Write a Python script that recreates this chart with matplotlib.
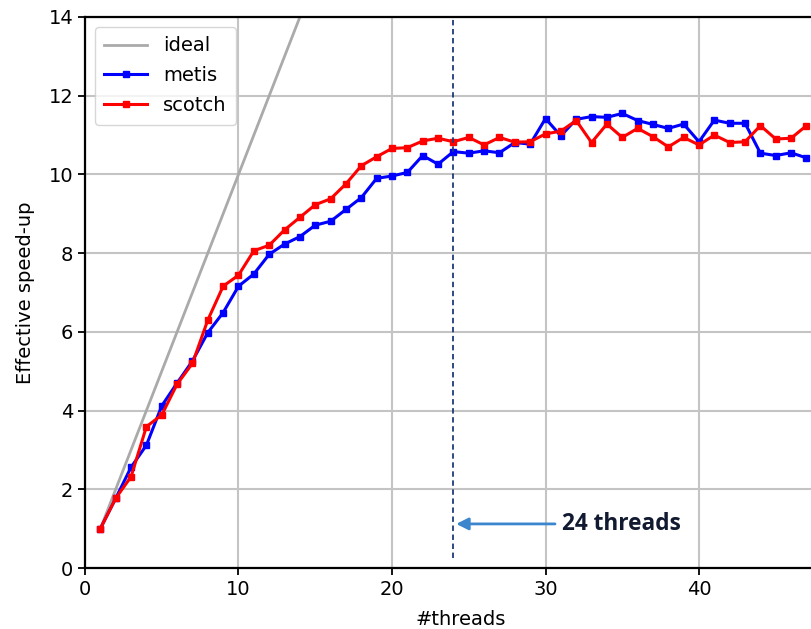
import numpy as np
import matplotlib
matplotlib.use('Agg')
import matplotlib.pyplot as plt

threads = np.arange(1, 48)
metis = [1.0, 1.77, 2.56, 3.12, 4.12, 4.7, 5.26, 5.98, 6.49, 7.16,
         7.47, 7.97, 8.23, 8.42, 8.71, 8.81, 9.11, 9.41, 9.9, 9.96,
         10.05, 10.48, 10.26, 10.58, 10.54, 10.6, 10.55, 10.81, 10.77, 11.42,
         10.98, 11.4, 11.47, 11.45, 11.55, 11.37, 11.27, 11.17, 11.28, 10.83,
         11.38, 11.3, 11.3, 10.54, 10.48, 10.55, 10.42]
scotch = [1.0, 1.77, 2.32, 3.59, 3.89, 4.67, 5.2, 6.3, 7.16, 7.44,
          8.06, 8.2, 8.59, 8.91, 9.23, 9.38, 9.76, 10.22, 10.45, 10.66,
          10.68, 10.85, 10.92, 10.83, 10.94, 10.75, 10.94, 10.82, 10.83, 11.03,
          11.1, 11.37, 10.81, 11.28, 10.94, 11.17, 10.96, 10.7, 10.94, 10.75,
          11.0, 10.81, 10.83, 11.24, 10.9, 10.92, 11.24]
ideal = threads
marker_thread = 24

fig = plt.figure(figsize=(8.11, 6.29), dpi=100)
# axes runs past the right edge, the reference is cropped there
ax = fig.add_axes([85/811, 61/629, 49*15.35/811, 551/629])

ax.plot(threads, ideal, color='#aaaaaa', lw=2, label='ideal')
ax.plot(threads, metis, color='blue', lw=2.2, marker='s', ms=5, label='metis')
ax.plot(threads, scotch, color='red', lw=2.2, marker='s', ms=5, label='scotch')

ax.axvline(marker_thread, ymin=0.018, ymax=1, color='#1f3a7a', lw=1.3, ls=(0, (3, 2)))
ax.annotate('', xy=(marker_thread, 1.12), xytext=(30.8, 1.12),
            arrowprops=dict(arrowstyle='-|>', color='#3b86cc', lw=2, mutation_scale=18))
ax.text(31.1, 1.12, '24 threads', fontsize=16.3, fontweight='bold', color='#111a30',
        va='center', ha='left', family=['Open Sans', 'DejaVu Sans'])

ax.set_xlim(0, 49)
ax.set_ylim(0, 14)
ax.set_xticks([0, 10, 20, 30, 40])
ax.set_yticks(range(0, 15, 2))
ax.grid(True, color='#c4c4c4', lw=1.5)
ax.set_axisbelow(True)
ax.tick_params(labelsize=14, width=1.3, length=5)
for s in ax.spines.values():
    s.set_linewidth(1.6)
ax.set_xlabel('#threads', fontsize=14, labelpad=8)
ax.set_ylabel('Effective speed-up', fontsize=14, labelpad=10)
ax.legend(loc='upper left', fontsize=14, handlelength=2.2, borderaxespad=0.5,
          borderpad=0.5, labelspacing=0.55)

fig.savefig('out.png', dpi=100)
